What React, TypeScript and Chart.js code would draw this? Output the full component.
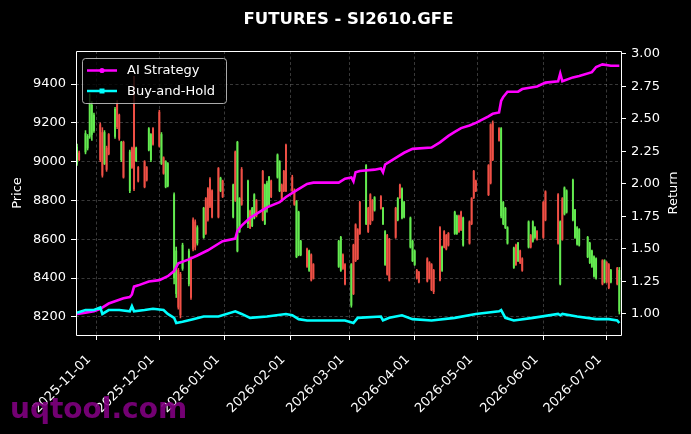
import React, { useEffect, useRef } from 'react';
import { Chart, registerables } from 'chart.js';

Chart.register(...registerables);

// ---------- DATA ----------
const candleDates = [
  '2025-10-23','2025-10-24','2025-10-27','2025-10-28','2025-10-29','2025-10-30','2025-10-31',
  '2025-11-03','2025-11-04','2025-11-05','2025-11-06','2025-11-07','2025-11-10','2025-11-11','2025-11-12','2025-11-13','2025-11-14',
  '2025-11-17','2025-11-18','2025-11-19','2025-11-20','2025-11-21','2025-11-24','2025-11-25','2025-11-26','2025-11-27','2025-11-28',
  '2025-12-01','2025-12-02','2025-12-03','2025-12-04','2025-12-05','2025-12-08','2025-12-09','2025-12-10','2025-12-11','2025-12-12',
  '2025-12-15','2025-12-16','2025-12-17','2025-12-18','2025-12-19','2025-12-22','2025-12-23','2025-12-24','2025-12-25','2025-12-26',
  '2025-12-29','2025-12-30','2025-12-31',
  '2026-01-05','2026-01-06','2026-01-07','2026-01-08','2026-01-09','2026-01-12','2026-01-13','2026-01-14','2026-01-15','2026-01-16',
  '2026-01-19','2026-01-20','2026-01-21','2026-01-22','2026-01-23','2026-01-26','2026-01-27','2026-01-28','2026-01-29','2026-01-30',
  '2026-02-02','2026-02-03','2026-02-04','2026-02-05','2026-02-06','2026-02-09','2026-02-10','2026-02-11','2026-02-12',
  '2026-02-24','2026-02-25','2026-02-26','2026-02-27',
  '2026-03-02','2026-03-03','2026-03-04','2026-03-05','2026-03-06','2026-03-09','2026-03-10','2026-03-11','2026-03-12','2026-03-13',
  '2026-03-16','2026-03-17','2026-03-18','2026-03-19','2026-03-20','2026-03-23','2026-03-24','2026-03-25','2026-03-26','2026-03-27',
  '2026-03-30','2026-03-31',
  '2026-04-01','2026-04-02','2026-04-03','2026-04-07','2026-04-08','2026-04-09','2026-04-10','2026-04-13','2026-04-14','2026-04-15',
  '2026-04-16','2026-04-17','2026-04-20','2026-04-21','2026-04-22','2026-04-23','2026-04-24','2026-04-27','2026-04-28','2026-04-29',
  '2026-04-30',
  '2026-05-06','2026-05-07','2026-05-08','2026-05-11','2026-05-12','2026-05-13','2026-05-14','2026-05-15','2026-05-18','2026-05-19',
  '2026-05-20','2026-05-21','2026-05-22','2026-05-25','2026-05-26','2026-05-27','2026-05-28','2026-05-29',
  '2026-06-01','2026-06-02','2026-06-08','2026-06-09','2026-06-10','2026-06-11','2026-06-12','2026-06-15','2026-06-16','2026-06-17',
  '2026-06-18','2026-06-22','2026-06-23','2026-06-24','2026-06-25','2026-06-26','2026-06-29','2026-06-30',
  '2026-07-01','2026-07-02','2026-07-03','2026-07-06','2026-07-07',
];

const candleOpen = [
  8990,9045,9050,9070,9130,9140,9160,
  9190,9150,8990,9070,9140,9130,9300,9240,9010,9100,8850,9070,9380,9005,8970,9000,8970,9060,9010,9170,
  9255,8990,9020,8870,8875,8400,8320,8440,8420,8450,8370,8500,8700,8690,8580,8610,8810,8860,8910,8850,8965,8850,8900,
  8715,9050,8540,8640,8960,8680,8745,8670,8710,8800,8950,8680,8760,8780,8900,8920,8850,8880,8950,9085,
  8920,8850,8510,8520,8520,8550,8440,8520,8470,8460,8440,8520,8470,
  8260,8570,8675,8650,8790,8680,8760,8830,8800,8750,8820,8680,8470,8620,8600,8760,8700,8880,8710,8715,8560,8490,
  8470,8440,8430,8500,8480,8470,8440,8660,8440,8640,8620,8630,8630,8630,8720,8740,8570,8690,8810,8950,8900,
  8980,9190,9200,9170,8720,8680,8660,8580,8455,8570,8490,8540,8500,8560,8620,8590,8610,8640,
  8790,8845,8830,8370,8810,8730,8740,8700,8610,8575,8570,8510,8480,8460,8410,8400,8490,8380,
  8480,8470,8380,8450,8230,
];

const candleHigh = [
  9090,9055,9160,9140,9350,9310,9250,
  9200,9175,9160,9080,9145,9280,9315,9245,9105,9106,9060,9075,9440,9075,8975,9005,8975,9175,9145,9175,
  9265,9150,9025,9005,8995,8840,8560,8450,8430,8580,8550,8510,8711,8700,8670,8765,8815,8866,8918,8855,8970,8920,8905,
  8885,9055,9105,8815,8970,8905,8750,8765,8835,8805,8955,8885,8900,8925,8905,9040,9005,8885,8955,9090,
  8930,8860,8800,8745,8595,8555,8545,8525,8475,8595,8615,8525,8475,
  8475,8575,8680,8655,8795,8985,8765,8835,8805,8820,8825,8765,8645,8625,8605,8765,8815,8885,8865,8795,8715,8595,
  8545,8445,8435,8505,8485,8475,8445,8665,8565,8645,8625,8635,8745,8725,8725,8745,8715,8695,8815,8955,8905,
  8985,9195,9210,9175,9175,8795,8765,8665,8560,8575,8585,8545,8505,8695,8625,8695,8665,8645,
  8795,8850,8835,8695,8815,8870,8855,8910,8755,8665,8655,8615,8585,8545,8515,8505,8495,8495,
  8485,8475,8445,8455,8455,
];

const candleLow = [
  8980,9005,9040,9060,9120,9110,9150,
  9000,8920,8985,8950,9035,9120,9170,9110,9000,8915,8840,8965,8850,9000,8895,8865,8900,9055,9000,9085,
  9075,8985,8935,8865,8870,8370,8300,8240,8195,8440,8360,8290,8540,8545,8570,8605,8625,8694,8763,8710,8710,8845,8815,
  8710,8795,8535,8635,8775,8660,8655,8665,8705,8715,8695,8675,8740,8775,8815,8915,8845,8795,8845,8845,
  8840,8775,8505,8515,8515,8455,8435,8385,8395,8455,8435,8445,8365,
  8250,8315,8485,8495,8625,8675,8635,8675,8695,8745,8755,8675,8465,8415,8385,8605,8695,8810,8705,8710,8555,8485,
  8465,8395,8375,8380,8395,8335,8320,8385,8435,8555,8545,8565,8625,8625,8635,8645,8565,8575,8675,8810,8845,
  8825,8885,9005,9105,8710,8675,8655,8575,8450,8465,8485,8475,8435,8555,8555,8585,8605,8595,
  8605,8695,8575,8365,8595,8725,8735,8695,8605,8570,8565,8505,8475,8455,8405,8395,8365,8375,
  8375,8345,8375,8365,8215,
];

const candleClose = [
  9075,9010,9145,9130,9300,9290,9240,
  9010,8930,9150,8960,9040,9270,9180,9120,9100,8920,9050,8970,8860,9070,8900,8870,8905,9170,9140,9090,
  9080,9140,8940,9000,8990,8830,8540,8250,8210,8570,8540,8300,8550,8560,8660,8760,8630,8700,8770,8715,8715,8915,8820,
  8880,8800,9100,8810,8780,8900,8660,8760,8830,8720,8700,8880,8890,8920,8820,9035,9000,8800,8850,8850,
  8850,8780,8795,8740,8590,8460,8540,8390,8400,8590,8610,8450,8370,
  8470,8320,8490,8500,8630,8980,8640,8680,8700,8815,8760,8760,8640,8420,8390,8610,8810,8815,8860,8790,8710,8590,
  8540,8400,8380,8385,8400,8340,8330,8390,8560,8560,8550,8570,8740,8720,8640,8650,8710,8580,8680,8815,8850,
  8830,8890,9010,9110,9170,8790,8760,8660,8555,8470,8580,8480,8440,8690,8560,8690,8660,8600,
  8610,8700,8580,8690,8600,8865,8850,8905,8750,8660,8650,8610,8580,8540,8510,8500,8370,8490,
  8380,8350,8440,8370,8440,
];

const strategyDates = [
  '2025-10-23','2025-10-27','2025-10-31','2025-11-03','2025-11-07','2025-11-14','2025-11-17','2025-11-18','2025-11-19','2025-11-21',
  '2025-11-26','2025-12-01','2025-12-05','2025-12-08','2025-12-10','2025-12-15','2025-12-19','2025-12-24','2025-12-29','2025-12-31',
  '2026-01-06','2026-01-07','2026-01-09','2026-01-13','2026-01-16','2026-01-21','2026-01-27','2026-01-30','2026-02-04','2026-02-09',
  '2026-02-12','2026-02-24','2026-02-27','2026-03-02','2026-03-03','2026-03-04','2026-03-06','2026-03-13','2026-03-16','2026-03-17',
  '2026-03-18','2026-03-20','2026-03-24','2026-03-27','2026-03-31','2026-04-09','2026-04-13','2026-04-17','2026-04-20','2026-04-23',
  '2026-04-27','2026-04-30','2026-05-06','2026-05-08','2026-05-11','2026-05-12','2026-05-13','2026-05-15','2026-05-20','2026-05-22',
  '2026-05-29','2026-06-02','2026-06-08','2026-06-09','2026-06-10','2026-06-15','2026-06-18','2026-06-24','2026-06-26','2026-06-29',
  '2026-07-03','2026-07-07',
];
const strategyValues = [
  1.00,1.01,1.02,1.04,1.08,1.12,1.13,1.15,1.21,1.22,
  1.25,1.26,1.29,1.33,1.39,1.42,1.45,1.49,1.54,1.56,
  1.58,1.64,1.68,1.74,1.77,1.82,1.86,1.90,1.95,2.00,
  2.01,2.01,2.04,2.05,2.02,2.09,2.10,2.11,2.12,2.09,
  2.15,2.17,2.21,2.24,2.27,2.28,2.32,2.37,2.40,2.43,
  2.45,2.47,2.52,2.54,2.55,2.64,2.67,2.71,2.71,2.73,
  2.75,2.78,2.79,2.85,2.79,2.82,2.83,2.86,2.90,2.92,
  2.91,2.91,
];

const holdDates = [
  '2025-10-23','2025-10-27','2025-10-31','2025-11-03','2025-11-04','2025-11-07','2025-11-12','2025-11-17','2025-11-18','2025-11-19',
  '2025-11-24','2025-11-28','2025-12-03','2025-12-05','2025-12-08','2025-12-09','2025-12-12','2025-12-17','2025-12-22','2025-12-29',
  '2026-01-06','2026-01-09','2026-01-13','2026-01-21','2026-01-30','2026-02-02','2026-02-05','2026-02-09','2026-02-27','2026-03-03',
  '2026-03-05','2026-03-16','2026-03-17','2026-03-20','2026-03-26','2026-03-31','2026-04-09','2026-04-20','2026-04-30','2026-05-11',
  '2026-05-12','2026-05-14','2026-05-18','2026-05-27','2026-06-08','2026-06-09','2026-06-10','2026-06-17','2026-06-26','2026-07-02',
  '2026-07-06','2026-07-07',
];
const holdValues = [
  1.01,1.03,1.03,1.05,1.00,1.03,1.03,1.02,1.06,1.02,
  1.03,1.04,1.03,1.00,0.97,0.93,0.94,0.96,0.98,0.98,
  1.02,1.00,0.97,0.98,1.00,0.99,0.96,0.95,0.95,0.93,
  0.97,0.98,0.95,0.97,0.99,0.96,0.95,0.97,1.00,1.02,
  1.03,0.97,0.95,0.97,1.00,0.99,1.00,0.98,0.96,0.96,
  0.95,0.93,
];

const monthTicks = ['2025-11-01','2025-12-01','2026-01-01','2026-02-01','2026-03-01','2026-04-01','2026-05-01','2026-06-01','2026-07-01'];
const priceTicks = [8200, 8400, 8600, 8800, 9000, 9200, 9400];
const returnTicks = [1.0, 1.25, 1.5, 1.75, 2.0, 2.25, 2.5, 2.75, 3.0];

const TITLE = 'FUTURES - SI2610.GFE';
const WATERMARK = 'uqtool.com';

// ---------- HELPERS ----------
const ORIGIN = Date.UTC(2025, 10, 1);
const toDay = (s: string) => {
  const [y, m, d] = s.split('-').map(Number);
  return (Date.UTC(y, m - 1, d) - ORIGIN) / 86400000;
};

const GREEN = 'rgb(100,235,80)';
const RED = 'rgb(240,80,70)';
const FONT = 'DejaVu Sans';

const decorPlugin = {
  id: 'decor',
  afterDraw(chart: any) {
    const { ctx, chartArea: ca } = chart;
    ctx.save();
    // frame
    ctx.strokeStyle = '#ffffff';
    ctx.lineWidth = 1;
    const l = Math.floor(ca.left) + 0.5;
    const r = Math.floor(ca.right) + 0.5;
    const t = Math.floor(ca.top) + 0.5;
    const b = Math.floor(ca.bottom) + 0.5;
    ctx.beginPath();
    ctx.rect(l, t, r - l, b - t);
    ctx.stroke();

    // legend
    const lx = 82.5, ly = 58.5, lw = 144, lh = 45;
    ctx.beginPath();
    (ctx as any).roundRect(lx, ly, lw, lh, 3);
    ctx.fillStyle = 'rgba(0,0,0,0.8)';
    ctx.fill();
    ctx.strokeStyle = 'rgba(200,200,200,0.85)';
    ctx.lineWidth = 1;
    ctx.stroke();
    const ds = chart.data.datasets;
    const rows = [
      { label: ds[0].label, color: ds[0].borderColor, marker: 'circle', y: 70.5 },
      { label: ds[1].label, color: ds[1].borderColor, marker: 'square', y: 91 },
    ];
    rows.forEach((row) => {
      ctx.strokeStyle = row.color;
      ctx.lineWidth = 2.5;
      ctx.beginPath();
      ctx.moveTo(87, row.y);
      ctx.lineTo(117, row.y);
      ctx.stroke();
      ctx.fillStyle = row.color;
      if (row.marker === 'circle') {
        ctx.beginPath();
        ctx.arc(102, row.y, 2.6, 0, Math.PI * 2);
        ctx.fill();
      } else {
        ctx.fillRect(99.5, row.y - 2.5, 5, 5);
      }
      ctx.fillStyle = '#ffffff';
      ctx.font = `13px "${FONT}"`;
      ctx.textAlign = 'left';
      ctx.textBaseline = 'middle';
      ctx.fillText(row.label, 127, row.y + 0.5);
    });

    // title
    ctx.fillStyle = '#ffffff';
    ctx.font = `bold 16.5px "${FONT}"`;
    ctx.textAlign = 'center';
    ctx.textBaseline = 'alphabetic';
    ctx.fillText(TITLE, (ca.left + ca.right) / 2, 24);

    // axis titles
    ctx.font = `13px "${FONT}"`;
    ctx.textBaseline = 'middle';
    const cy = (ca.top + ca.bottom) / 2;
    ctx.save();
    ctx.translate(17.5, cy);
    ctx.rotate(-Math.PI / 2);
    ctx.fillText('Price', 0, 0);
    ctx.restore();
    ctx.save();
    ctx.translate(673.5, cy);
    ctx.rotate(-Math.PI / 2);
    ctx.fillText('Return', 0, 0);
    ctx.restore();

    // watermark
    ctx.font = `bold 28px "${FONT}"`;
    ctx.textAlign = 'left';
    ctx.textBaseline = 'alphabetic';
    ctx.fillStyle = 'rgba(128,0,128,0.9)';
    ctx.fillText(WATERMARK, 10, 418);
    ctx.restore();
  },
};

export default function App() {
  const ref = useRef<HTMLCanvasElement | null>(null);

  useEffect(() => {
    if (!ref.current) return;
    const n = Math.min(candleDates.length, candleOpen.length, candleHigh.length, candleLow.length, candleClose.length);
    const colors: string[] = [];
    const wicks: any[] = [];
    const bodies: any[] = [];
    for (let i = 0; i < n; i++) {
      const x = toDay(candleDates[i]);
      const o = candleOpen[i], c = candleClose[i];
      colors.push(c >= o ? GREEN : RED);
      wicks.push({ x, y: [candleLow[i], candleHigh[i]] });
      bodies.push({ x, y: [Math.min(o, c), Math.max(o, c)] });
    }
    const stratPts = strategyDates.slice(0, strategyValues.length).map((d, i) => ({ x: toDay(d), y: strategyValues[i] }));
    const holdPts = holdDates.slice(0, holdValues.length).map((d, i) => ({ x: toDay(d), y: holdValues[i] }));

    const tickFont = { family: FONT, size: 13 };
    const gridColor = 'rgba(255,255,255,0.28)';

    const chart = new Chart(ref.current, {
      type: 'line',
      data: {
        datasets: [
          {
            type: 'line', label: 'AI Strategy', data: stratPts, xAxisID: 'x', yAxisID: 'y1',
            borderColor: '#ff00ff', backgroundColor: '#ff00ff', borderWidth: 2.6, pointRadius: 0, tension: 0, order: 1,
          },
          {
            type: 'line', label: 'Buy-and-Hold', data: holdPts, xAxisID: 'x', yAxisID: 'y1',
            borderColor: '#00ffff', backgroundColor: '#00ffff', borderWidth: 2.6, pointRadius: 0, tension: 0, order: 0,
          },
          {
            type: 'bar', label: 'body', data: bodies, xAxisID: 'x', yAxisID: 'y',
            backgroundColor: colors, barThickness: 1.25, grouped: false, order: 2,
          } as any,
          {
            type: 'bar', label: 'wick', data: wicks, xAxisID: 'x', yAxisID: 'y',
            backgroundColor: colors, barThickness: 0.9, grouped: false, order: 3,
          } as any,
        ],
      },
      options: {
        animation: false,
        responsive: false,
        devicePixelRatio: 1,
        events: [],
        layout: { padding: { top: 51, left: 0, right: 0, bottom: 0 } },
        plugins: { legend: { display: false }, tooltip: { enabled: false }, title: { display: false } },
        scales: {
          x: {
            type: 'linear', min: -9.5, max: 248.8, offset: false,
            afterBuildTicks: (s: any) => { s.ticks = monthTicks.map((d) => ({ value: toDay(d) })); },
            afterFit: (s: any) => { s.height = 99; },
            ticks: {
              color: '#ffffff', font: tickFont, autoSkip: false, maxRotation: 45, minRotation: 45, padding: 12,
              labelOffset: -7,
              callback: (_v: any, i: number) => monthTicks[i],
            },
            grid: { color: gridColor, lineWidth: 0.8, offset: false, tickColor: '#ffffff', tickLength: 5, tickWidth: 1 },
            border: { display: false, dash: [3, 2.5] },
          },
          y: {
            type: 'linear', position: 'left', min: 8107, max: 9570,
            afterBuildTicks: (s: any) => { s.ticks = priceTicks.map((v) => ({ value: v })); },
            afterFit: (s: any) => { s.width = 76; },
            ticks: { color: '#ffffff', font: tickFont, padding: 5, callback: (v: any) => String(v) },
            grid: { color: gridColor, lineWidth: 0.8, tickColor: '#ffffff', tickLength: 5, tickWidth: 1 },
            border: { display: false, dash: [3, 2.5] },
          },
          y1: {
            type: 'linear', position: 'right', min: 0.838, max: 3.023,
            afterBuildTicks: (s: any) => { s.ticks = returnTicks.map((v) => ({ value: v })); },
            afterFit: (s: any) => { s.width = 70; },
            ticks: { color: '#ffffff', font: tickFont, padding: 5, callback: (v: any) => Number(v).toFixed(2) },
            grid: { drawOnChartArea: false, tickColor: '#ffffff', tickLength: 5, tickWidth: 1 },
            border: { display: false },
          },
        },
      } as any,
      plugins: [decorPlugin],
    });
    return () => chart.destroy();
  }, []);

  return (
    <div style={{ position: 'fixed', left: 0, top: 0, width: 691, height: 434, background: '#000000' }}>
      <canvas ref={ref} width={691} height={434} style={{ display: 'block', width: 691, height: 434 }} />
    </div>
  );
}
